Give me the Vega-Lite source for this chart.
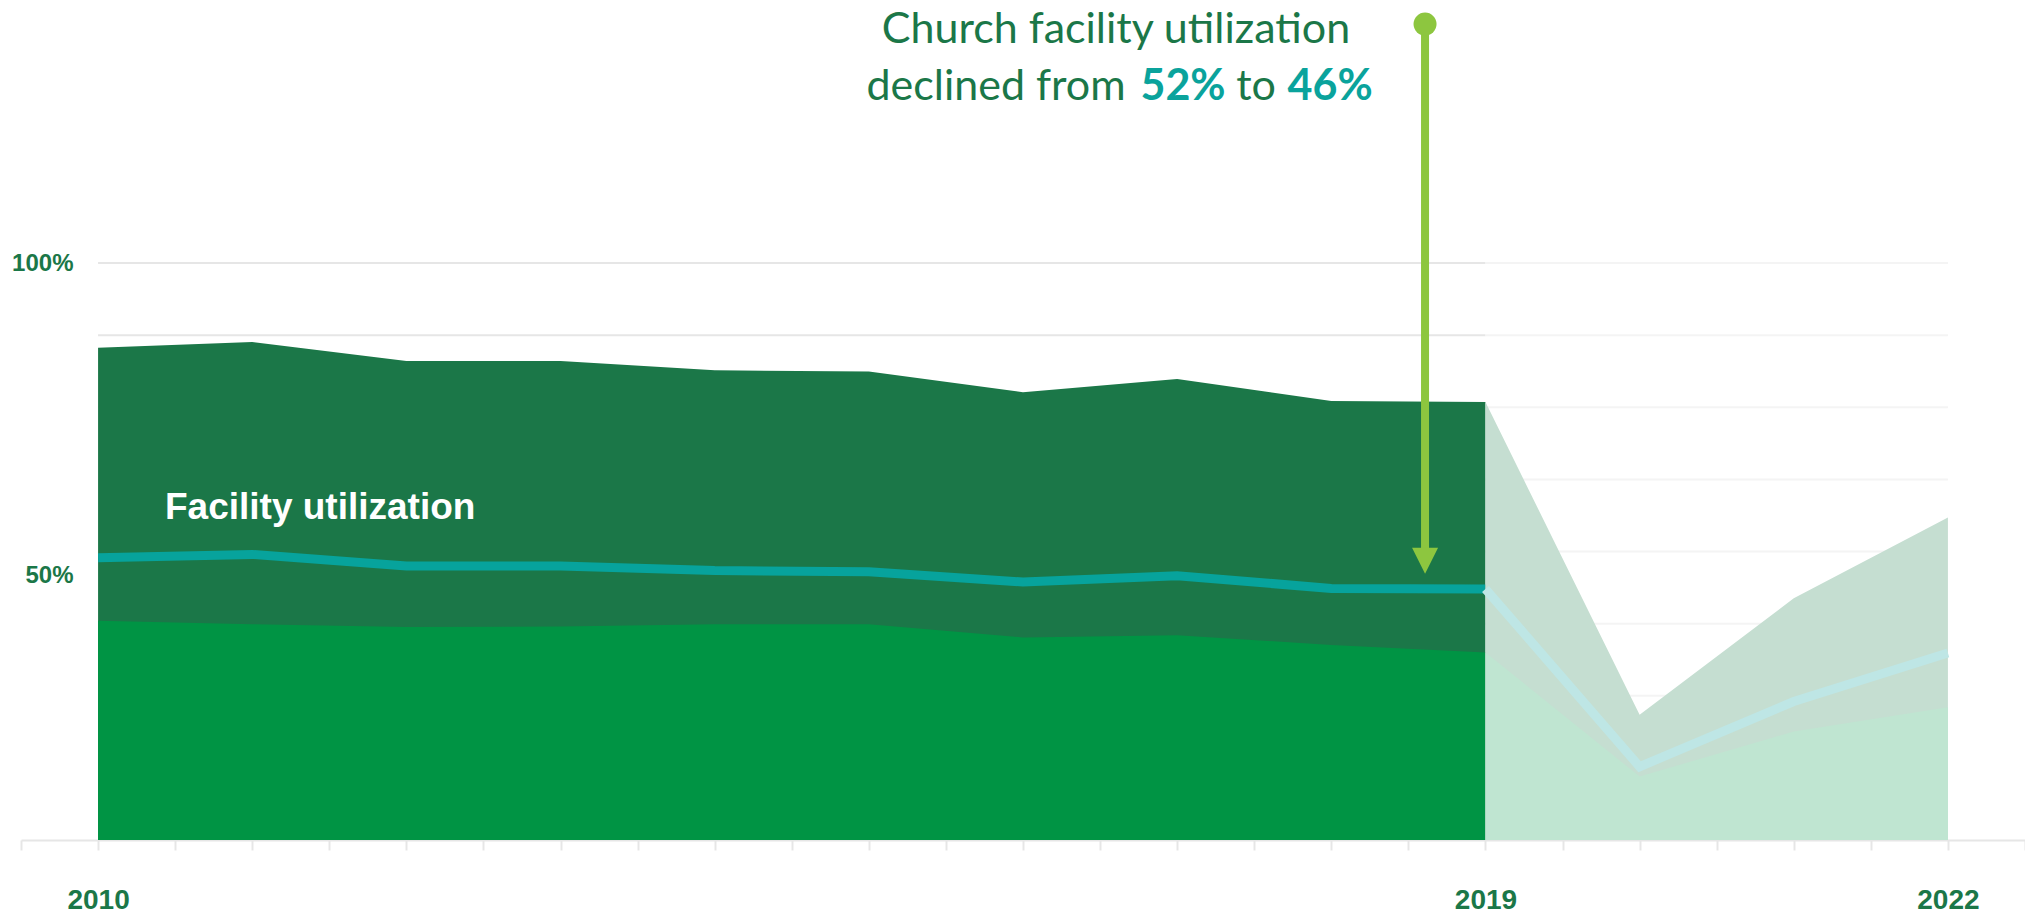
{
  "$schema": "https://vega.github.io/schema/vega-lite/v6.json",
  "width": 2004,
  "height": 577,
  "autosize": {"type": "none"},
  "padding": {"left": 21, "top": 263, "right": 0, "bottom": 75},
  "background": "white",
  "config": {"view": {"stroke": null}, "font": "Liberation Sans"},
  "datasets": {
    "hist": [
      {"year": 2010, "upper": 85.3, "teal": 48.9, "lower": 38.0},
      {"year": 2011, "upper": 86.3, "teal": 49.5, "lower": 37.4},
      {"year": 2012, "upper": 83.0, "teal": 47.5, "lower": 36.9},
      {"year": 2013, "upper": 83.0, "teal": 47.5, "lower": 37.0},
      {"year": 2014, "upper": 81.4, "teal": 46.7, "lower": 37.4},
      {"year": 2015, "upper": 81.2, "teal": 46.5, "lower": 37.4},
      {"year": 2016, "upper": 77.6, "teal": 44.7, "lower": 35.1},
      {"year": 2017, "upper": 79.9, "teal": 45.8, "lower": 35.5},
      {"year": 2018, "upper": 76.1, "teal": 43.6, "lower": 33.8},
      {"year": 2019, "upper": 75.9, "teal": 43.5, "lower": 32.5}
    ],
    "post": [
      {"year": 2019, "upper": 75.9, "teal": 43.5, "lower": 32.5},
      {"year": 2020, "upper": 21.7, "teal": 12.7, "lower": 11.0},
      {"year": 2021, "upper": 41.9, "teal": 24.0, "lower": 18.8},
      {"year": 2022, "upper": 55.9, "teal": 32.4, "lower": 23.0}
    ],
    "grid": [
      {"v": 12.5}, {"v": 25}, {"v": 37.5}, {"v": 50}, {"v": 62.5}, {"v": 75}, {"v": 87.5}, {"v": 100}
    ]
  },
  "layer": [
    {
      "data": {"name": "grid"},
      "mark": {"type": "rule", "color": "#E6E6E6", "strokeWidth": 2},
      "encoding": {
        "x": {
          "datum": 2010, "type": "quantitative",
          "scale": {"domain": [2009.5, 2022.5], "nice": false, "zero": false},
          "axis": {
            "title": null,
            "values": [2009.5, 2010, 2010.5, 2011, 2011.5, 2012, 2012.5, 2013, 2013.5, 2014, 2014.5, 2015, 2015.5, 2016, 2016.5, 2017, 2017.5, 2018, 2018.5, 2019, 2019.5, 2020, 2020.5, 2021, 2021.5, 2022, 2022.5],
            "labelExpr": "indexof([2010, 2019, 2022], datum.value) >= 0 ? toString(datum.value) : ''",
            "labelFontSize": 28,
            "labelFontWeight": "bold",
            "labelColor": "#1B7748",
            "labelPadding": 36,
            "labelFlush": false,
            "labelOverlap": false,
            "labelBound": false,
            "tickSize": 10,
            "tickWidth": 2,
            "tickColor": "#E6E6E6",
            "domainColor": "#E6E6E6",
            "domainWidth": 2,
            "grid": false
          }
        },
        "x2": {"datum": 2019},
        "y": {
          "field": "v", "type": "quantitative",
          "scale": {"domain": [0, 100], "nice": false},
          "axis": {
            "title": null,
            "values": [50, 100],
            "labelExpr": "datum.value + '%'",
            "domain": false,
            "ticks": false,
            "grid": false,
            "labelFontSize": 24,
            "labelFontWeight": "bold",
            "labelColor": "#1B7748",
            "labelAlign": "right",
            "labelPadding": -52,
            "labelOffset": {"condition": {"test": "datum.value == 50", "value": 24}, "value": 0}
          }
        }
      }
    },
    {
      "data": {"name": "grid"},
      "mark": {"type": "rule", "color": "#F4F4F4", "strokeWidth": 2},
      "encoding": {
        "x": {"datum": 2019, "type": "quantitative"},
        "x2": {"datum": 2022},
        "y": {"field": "v", "type": "quantitative"}
      }
    },
    {
      "data": {"name": "hist"},
      "mark": {"type": "area", "color": "#1B7748", "opacity": 1},
      "encoding": {
        "x": {"field": "year", "type": "quantitative"},
        "y": {"field": "upper", "type": "quantitative"}
      }
    },
    {
      "data": {"name": "hist"},
      "mark": {"type": "area", "color": "#009444", "opacity": 1},
      "encoding": {
        "x": {"field": "year", "type": "quantitative"},
        "y": {"field": "lower", "type": "quantitative"}
      }
    },
    {
      "data": {"name": "hist"},
      "mark": {"type": "line", "color": "#07A39C", "strokeWidth": 9},
      "encoding": {
        "x": {"field": "year", "type": "quantitative"},
        "y": {"field": "teal", "type": "quantitative"}
      }
    },
    {
      "data": {"name": "post"},
      "mark": {"type": "area", "color": "#C5DED1", "opacity": 1},
      "encoding": {
        "x": {"field": "year", "type": "quantitative"},
        "y": {"field": "upper", "type": "quantitative"}
      }
    },
    {
      "data": {"name": "post"},
      "mark": {"type": "area", "color": "#BFE5D1", "opacity": 1},
      "encoding": {
        "x": {"field": "year", "type": "quantitative"},
        "y": {"field": "lower", "type": "quantitative"}
      }
    },
    {
      "data": {"name": "post"},
      "mark": {"type": "line", "color": "#BEE6E5", "strokeWidth": 9},
      "encoding": {
        "x": {"field": "year", "type": "quantitative"},
        "y": {"field": "teal", "type": "quantitative"}
      }
    },
    {
      "data": {"values": [{}]},
      "mark": {"type": "text", "text": "Facility utilization", "font": "Liberation Sans", "fontWeight": "bold", "fontSize": 37, "color": "#FFFFFF", "align": "left", "baseline": "alphabetic"},
      "encoding": {
        "x": {"datum": 2010.434, "type": "quantitative"},
        "y": {"datum": 55.6, "type": "quantitative"}
      }
    },
    {
      "data": {"values": [{}]},
      "mark": {"type": "text", "text": "Church facility utilization", "font": "Lato", "fontSize": 43, "color": "#1B7748", "align": "center", "baseline": "alphabetic"},
      "encoding": {
        "x": {"datum": 2016.603, "type": "quantitative"},
        "y": {"datum": 138.1, "type": "quantitative"}
      }
    },
    {
      "data": {"values": [{}]},
      "mark": {"type": "text", "text": "declined from", "font": "Lato", "fontSize": 43, "color": "#1B7748", "align": "center", "baseline": "alphabetic"},
      "encoding": {
        "x": {"datum": 2015.825, "type": "quantitative"},
        "y": {"datum": 128.2, "type": "quantitative"}
      }
    },
    {
      "data": {"values": [{}]},
      "mark": {"type": "text", "text": "52%", "font": "Lato", "fontWeight": "bold", "fontSize": 43, "color": "#0AA39C", "align": "center", "baseline": "alphabetic"},
      "encoding": {
        "x": {"datum": 2017.038, "type": "quantitative"},
        "y": {"datum": 128.2, "type": "quantitative"}
      }
    },
    {
      "data": {"values": [{}]},
      "mark": {"type": "text", "text": "to", "font": "Lato", "fontSize": 43, "color": "#1B7748", "align": "center", "baseline": "alphabetic"},
      "encoding": {
        "x": {"datum": 2017.512, "type": "quantitative"},
        "y": {"datum": 128.2, "type": "quantitative"}
      }
    },
    {
      "data": {"values": [{}]},
      "mark": {"type": "text", "text": "46%", "font": "Lato", "fontWeight": "bold", "fontSize": 43, "color": "#0AA39C", "align": "center", "baseline": "alphabetic"},
      "encoding": {
        "x": {"datum": 2017.992, "type": "quantitative"},
        "y": {"datum": 128.2, "type": "quantitative"}
      }
    },
    {
      "data": {"values": [{}]},
      "mark": {"type": "rule", "color": "#8DC63F", "strokeWidth": 8},
      "encoding": {
        "x": {"datum": 2018.608, "type": "quantitative"},
        "y": {"datum": 141.4, "type": "quantitative"},
        "y2": {"datum": 50.0}
      }
    },
    {
      "data": {"values": [{}]},
      "mark": {"type": "point", "shape": "circle", "filled": true, "size": 530, "color": "#8DC63F", "opacity": 1},
      "encoding": {
        "x": {"datum": 2018.608, "type": "quantitative"},
        "y": {"datum": 141.4, "type": "quantitative"}
      }
    },
    {
      "data": {"values": [{}]},
      "mark": {"type": "point", "shape": "M-1,-1L1,-1L0,1Z", "filled": true, "size": 676, "color": "#8DC63F", "opacity": 1},
      "encoding": {
        "x": {"datum": 2018.608, "type": "quantitative"},
        "y": {"datum": 48.4, "type": "quantitative"}
      }
    }
  ]
}
